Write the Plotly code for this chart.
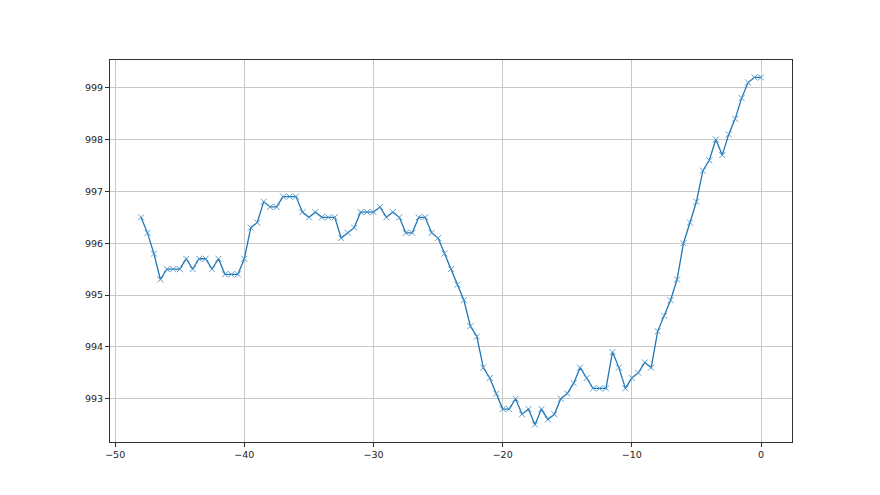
import plotly.graph_objects as go

x_start = -48.0
x_step = 0.5
pressure = [
    996.5, 996.2, 995.8, 995.3, 995.5, 995.5, 995.5, 995.7, 995.5, 995.7,
    995.7, 995.5, 995.7, 995.4, 995.4, 995.4, 995.7, 996.3, 996.4, 996.8,
    996.7, 996.7, 996.9, 996.9, 996.9, 996.6, 996.5, 996.6, 996.5, 996.5,
    996.5, 996.1, 996.2, 996.3, 996.6, 996.6, 996.6, 996.7, 996.5, 996.6,
    996.5, 996.2, 996.2, 996.5, 996.5, 996.2, 996.1, 995.8, 995.5, 995.2,
    994.9, 994.4, 994.2, 993.6, 993.4, 993.1, 992.8, 992.8, 993.0, 992.7,
    992.8, 992.5, 992.8, 992.6, 992.7, 993.0, 993.1, 993.3, 993.6, 993.4,
    993.2, 993.2, 993.2, 993.9, 993.6, 993.2, 993.4, 993.5, 993.7, 993.6,
    994.3, 994.6, 994.9, 995.3, 996.0, 996.4, 996.8, 997.4, 997.6, 998.0,
    997.7, 998.1, 998.4, 998.8, 999.1, 999.2, 999.2,
]
hours = [x_start + x_step * i for i in range(len(pressure))]

x_ticks = [-50, -40, -30, -20, -10, 0]
y_ticks = [993, 994, 995, 996, 997, 998, 999]

fig = go.Figure()
fig.add_trace(go.Scatter(
    x=hours, y=pressure, mode="lines+markers",
    line=dict(color="#1f77b4", width=1.3),
    marker=dict(symbol="x-thin", size=6, line=dict(color="#4a93c8", width=0.9)),
    showlegend=False,
))

xmin, xmax = min(hours), max(hours)
ymin, ymax = min(pressure), max(pressure)
xm = (xmax - xmin) * 0.05
ym = (ymax - ymin) * 0.05

axis_common = dict(
    showline=True, linecolor="#333333", linewidth=1, mirror=True,
    showgrid=True, gridcolor="#c8c8c8", gridwidth=0.8,
    zeroline=False, ticks="outside", ticklen=4, tickcolor="#333333",
    tickfont=dict(family="DejaVu Sans", size=9.5, color="#222222"),
)

fig.update_layout(
    width=880, height=495,
    paper_bgcolor="white", plot_bgcolor="white",
    margin=dict(l=102, r=96, t=52, b=61),
    xaxis=dict(range=[xmin - xm, xmax + xm], tickvals=x_ticks, **axis_common),
    yaxis=dict(range=[ymin - ym, ymax + ym], tickvals=y_ticks, **axis_common),
)

fig.write_html("out.html")
